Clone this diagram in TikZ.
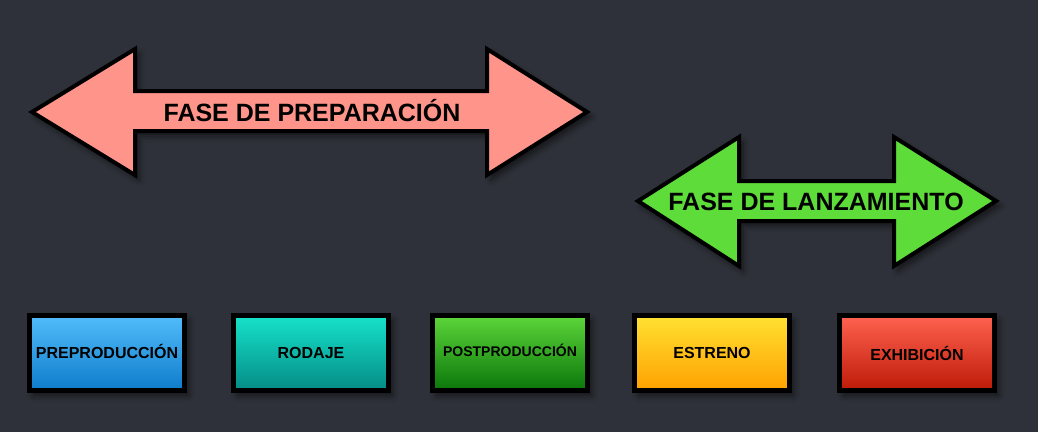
\documentclass[tikz,border=0pt]{standalone}
\usepackage{fontspec}
\setmainfont{Liberation Sans}
\usetikzlibrary{shadows.blur}
\definecolor{bg}{HTML}{2E3139}
\definecolor{pinkfill}{HTML}{FF958A}
\definecolor{greenfill}{HTML}{5EDC3A}
\definecolor{bluetop}{HTML}{52BCFA}
\definecolor{bluebot}{HTML}{0E7CCB}
\definecolor{tealtop}{HTML}{16E2CA}
\definecolor{tealbot}{HTML}{058C86}
\definecolor{greentop}{HTML}{5CD63A}
\definecolor{greenbot}{HTML}{0A760A}
\definecolor{yellowtop}{HTML}{FFE232}
\definecolor{yellowbot}{HTML}{FFA000}
\definecolor{redtop}{HTML}{FF6250}
\definecolor{redbot}{HTML}{BE1A08}
\tikzset{
  arrowshape/.style={draw=black, line width=4, line join=miter,
    blur shadow={shadow xshift=4pt, shadow yshift=-5pt, shadow blur radius=6pt, shadow opacity=55}},
  arrowtext/.style={font=\bfseries\fontsize{25}{25}\selectfont, text=black, inner sep=0,
    text height=18pt, text depth=0pt},
  stagebox/.style={draw=black, line width=5, minimum width=155, minimum height=75,
    inner sep=0, text=black, text height=11.5pt, text depth=0pt,
    font=\bfseries\fontsize{16}{16}\selectfont,
    blur shadow={shadow xshift=4pt, shadow yshift=-5pt, shadow blur radius=6pt, shadow opacity=55}}
}
\begin{document}
\begin{tikzpicture}[x=1pt,y=-1pt]
\fill[bg] (0,0) rectangle (1038,432);
\useasboundingbox (0,0) rectangle (1038,432);
% preparation arrow
\fill[arrowshape, fill=pinkfill] (32,112) -- (135,49) -- (135,91) -- (487,91) -- (487,49) -- (587,112)
  -- (487,175) -- (487,131) -- (135,131) -- (135,175) -- cycle;
\node[arrowtext] (prep) at (312,112) {FASE DE PREPARACIÓN};
% launch arrow
\fill[arrowshape, fill=greenfill] (638,201) -- (739,137) -- (739,181) -- (894,181) -- (894,137) -- (996,201)
  -- (894,266) -- (894,221) -- (739,221) -- (739,266) -- cycle;
\node[arrowtext] (lanz) at (816,201) {FASE DE LANZAMIENTO};
% stages
\node[stagebox, top color=bluetop, bottom color=bluebot] (pre) at (107,353) {PREPRODUCCIÓN};
\node[stagebox, top color=tealtop, bottom color=tealbot] (rod) at (311,353) {RODAJE};
\node[stagebox, top color=greentop, bottom color=greenbot, font=\bfseries\fontsize{14}{14}\selectfont, text height=10pt] (post) at (510,353) {\raisebox{2pt}{POSTPRODUCCIÓN}};
\node[stagebox, top color=yellowtop, bottom color=yellowbot] (est) at (712,353) {ESTRENO};
\node[stagebox, top color=redtop, bottom color=redbot] (exh) at (917,353) {\raisebox{-2pt}{EXHIBICIÓN}};
\end{tikzpicture}
\end{document}
